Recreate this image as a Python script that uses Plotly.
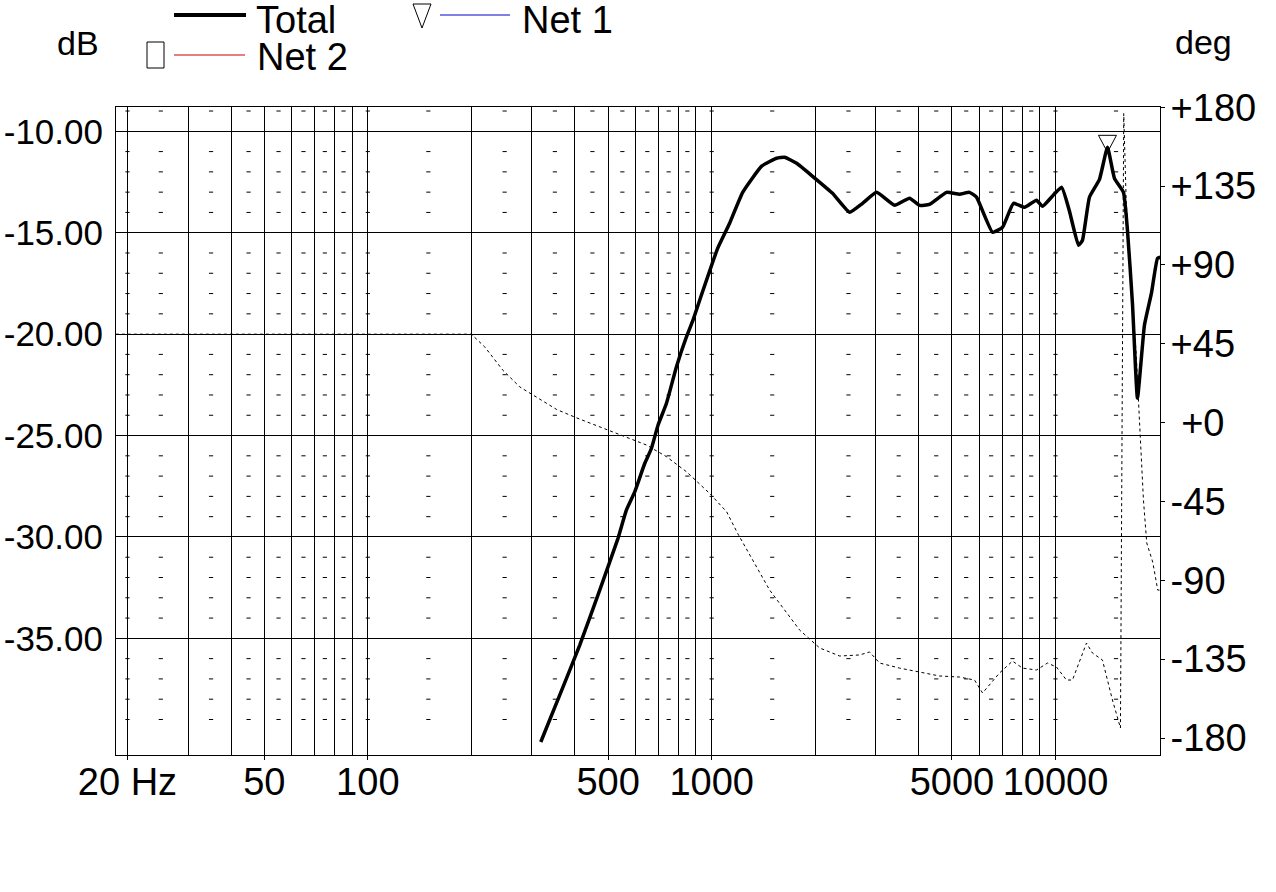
import plotly.graph_objects as go

# ---------------- data ----------------
# Total response (dB, left axis)
TOTAL_F = [318.4, 361.5, 413.4, 472.6, 534.1, 564.9, 597.4, 638.7, 667.9, 698.2,
           738.6, 789.7, 844.6, 882.6, 922.9, 1041, 1128, 1231, 1398, 1545,
           1630, 1767, 1966, 2247, 2519, 2748, 3018, 3404, 3764, 4024,
           4302, 4822, 5260, 5623, 5893, 6560, 7015, 7548, 8127, 8807,
           9167, 10409, 10982, 11665, 11982, 12555, 13427, 14165, 14843, 15767,
           16194, 16745, 17317, 18145, 19015, 19800, 20200]
TOTAL_DB = [-40.11, -37.80, -35.33, -32.62, -30.07, -28.68, -27.78, -26.38, -25.64, -24.49,
            -23.42, -21.62, -20.14, -19.31, -18.33, -15.77, -14.53, -13.01, -11.72, -11.33,
            -11.28, -11.58, -12.22, -13.06, -13.99, -13.55, -13.01, -13.65, -13.30, -13.65,
            -13.60, -13.01, -13.10, -13.01, -13.25, -14.98, -14.73, -13.55, -13.75, -13.40,
            -13.70, -12.76, -13.94, -15.62, -15.37, -13.25, -12.37, -10.79, -12.32, -13.01,
            -14.88, -18.48, -23.16, -19.56, -17.98, -16.26, -16.21]

# Phase (deg, right axis)
PHASE_F = [18.5, 200, 218.9, 246.9, 276.6, 301.8, 354.3, 405.1, 472.6, 551.1,
           647.1, 739.9, 845.9, 986.7, 1106, 1190, 1475, 1803, 2061, 2356,
           2693, 2880, 3079, 3520, 4024, 4601, 5260, 5814, 6136, 6874,
           7499, 8018, 8807, 9479, 10067, 10764, 11205, 12307, 12812, 13697,
           14645, 15453, 15796, 16054, 16596, 17165, 17547, 18025, 18428, 19182,
           19838, 20063]
PHASE_DEG = [50.5, 50.5, 43.2, 30.0, 20.4, 15.7, 7.5, 2.7, -2.4, -7.1,
             -12.8, -19.5, -28.1, -40.4, -50.9, -63.2, -95.6, -118.4, -128.6, -133.2,
             -132.6, -130.9, -137.2, -140.1, -142.3, -144.6, -145.2, -146.9, -154.3, -142.9,
             -136.1, -140.1, -141.2, -137.2, -139.5, -146.9, -146.9, -125.8, -131.5, -135.5,
             -158.3, -174.3, 176.4, 126.9, 77.5, 39.7, 1.4, -44.2, -68.7, -79.6,
             -95.6, -95.6]

# Net 1 marker (on Total peak)
NET1_MARK_F = 14165
NET1_MARK_DB = -10.79

# axis ticks
X_MAJOR = [20, 50, 100, 500, 1000, 5000, 10000]
X_MAJOR_TEXT = ["20 Hz", "50", "100", "500", "1000", "5000", "10000"]
X_MINOR = [30, 40, 60, 70, 80, 90, 200, 300, 400, 600, 700, 800, 900,
           2000, 3000, 4000, 6000, 7000, 8000, 9000]
X_DASH = [20, 25, 35, 45, 55, 65, 75, 85, 100, 150, 250, 350, 450, 550, 650,
          750, 850, 1000, 1500, 2500, 3500, 4500, 5500, 6500, 7500, 8500,
          10000, 15000]
Y_DB_TICKS = [-10, -15, -20, -25, -30, -35]
Y_DB_TEXT = ["-10.00", "-15.00", "-20.00", "-25.00", "-30.00", "-35.00"]
Y_DB_DASH = [-9, -11, -12, -13, -14, -16, -17, -18, -19, -21, -22, -23, -24,
             -26, -27, -28, -29, -31, -32, -33, -34, -36, -37, -38, -39]
Y_DEG_TICKS = [180, 135, 90, 45, 0, -45, -90, -135, -180]
Y_DEG_TEXT = ["+180", "+135", "+90", "+45", "\u00a0+0", "-45", "-90", "-135", "-180"]

# ---------------- layout helpers ----------------
W, H = 1276, 892
PL, PR, PT, PB = 116, 1160, 107, 755          # plot area in window pixels
L, R, T, B = PL, W - PR, PT, H - PB
PW, PH = PR - PL, PB - PT


def px(x):
    return (x - PL) / PW


def py(y):
    return (PB - y) / PH


FONT = "Liberation Sans, Arial, sans-serif"

fig = go.Figure()

# grid dash decoration
dx = [fx for fx in X_DASH for _ in Y_DB_DASH]
dy = [d for _ in X_DASH for d in Y_DB_DASH]
fig.add_trace(go.Scatter(x=dx, y=dy, mode="markers", hoverinfo="skip",
                         marker=dict(symbol="line-ew", size=3,
                                     line=dict(color="black", width=1)),
                         showlegend=False))

fig.add_trace(go.Scatter(x=PHASE_F, y=PHASE_DEG, yaxis="y2", mode="lines",
                         line=dict(color="black", width=1, dash="3px,3px"),
                         name="Phase", showlegend=False))

fig.add_trace(go.Scatter(x=TOTAL_F, y=TOTAL_DB, mode="lines",
                         line=dict(color="black", width=3.5, shape="spline",
                                   smoothing=0.4),
                         name="Total", showlegend=False))

fig.update_layout(
    width=W, height=H,
    margin=dict(l=L, r=R, t=T, b=B, autoexpand=False),
    paper_bgcolor="white", plot_bgcolor="white",
    font=dict(family=FONT, size=38, color="black"),
    xaxis=dict(type="log", range=[1.2676, 4.304], automargin=False,
               tickvals=X_MAJOR, ticktext=X_MAJOR_TEXT,
               ticks="outside", ticklen=4, tickcolor="black",
               showgrid=True, gridcolor="black", gridwidth=1,
               minor=dict(tickvals=X_MINOR, showgrid=True, gridcolor="black",
                          gridwidth=1, ticks=""),
               showline=True, linecolor="black", linewidth=1, mirror=True,
               zeroline=False, ticklabelstandoff=-11,
               tickfont=dict(size=38)),
    yaxis=dict(range=[-40.751, -8.802], automargin=False,
               tickvals=Y_DB_TICKS, ticktext=Y_DB_TEXT,
               showgrid=True, gridcolor="black", gridwidth=1,
               showline=True, linecolor="black", linewidth=1, mirror=True,
               zeroline=False, ticks="", ticklabelstandoff=5,
               tickfont=dict(size=35)),
    yaxis2=dict(range=[-189.70, 180.17], overlaying="y", side="right",
                automargin=False,
                tickvals=Y_DEG_TICKS, ticktext=Y_DEG_TEXT,
                showgrid=False, zeroline=False, showline=False,
                ticks="outside", ticklen=4, tickcolor="black",
                ticklabelstandoff=-2, tickfont=dict(size=38)),
    showlegend=False,
)

# Net 1 marker on the plot (triangle, anchored at data point)
fig.add_shape(type="path", xref="x", yref="y",
              xsizemode="pixel", ysizemode="pixel",
              xanchor=NET1_MARK_F, yanchor=NET1_MARK_DB,
              path="M-9,12 L9,12 L0,-5 Z",
              line=dict(color="black", width=1), fillcolor="rgba(0,0,0,0)")

# axis unit labels
fig.add_annotation(text="dB", xref="paper", yref="paper", x=px(101), y=py(43),
                   xanchor="right", yanchor="middle", showarrow=False,
                   font=dict(size=34))
fig.add_annotation(text="deg", xref="paper", yref="paper", x=px(1173), y=py(42),
                   xanchor="left", yanchor="middle", showarrow=False,
                   font=dict(size=34))

# manual legend
fig.add_shape(type="line", xref="paper", yref="paper",
              x0=px(174), x1=px(246), y0=py(15), y1=py(15),
              line=dict(color="black", width=4))
fig.add_annotation(text="Total", xref="paper", yref="paper", x=px(255), y=py(-2),
                   xanchor="left", yanchor="top", showarrow=False, borderpad=0)

fig.add_shape(type="path", xref="paper", yref="paper",
              path="M{},{} L{},{} L{},{} Z".format(px(413), py(4), px(431), py(4),
                                                  px(422), py(28)),
              line=dict(color="black", width=1), fillcolor="rgba(0,0,0,0)")
fig.add_shape(type="line", xref="paper", yref="paper",
              x0=px(440), x1=px(510), y0=py(15), y1=py(15),
              line=dict(color="#0000cc", width=1))
fig.add_annotation(text="Net 1", xref="paper", yref="paper", x=px(521), y=py(-2),
                   xanchor="left", yanchor="top", showarrow=False, borderpad=0)

fig.add_shape(type="rect", xref="paper", yref="paper",
              x0=px(147), x1=px(164), y0=py(68), y1=py(42),
              line=dict(color="black", width=1), fillcolor="rgba(0,0,0,0)")
fig.add_shape(type="line", xref="paper", yref="paper",
              x0=px(174), x1=px(245), y0=py(55), y1=py(55),
              line=dict(color="#cc0000", width=1))
fig.add_annotation(text="Net 2", xref="paper", yref="paper", x=px(255), y=py(57),
                   xanchor="left", yanchor="middle", showarrow=False)

# remove the default 8px page margin so the figure fills the window exactly
fig.write_html("out.html", config={"displayModeBar": False},
               post_script="document.body.style.margin='0px';")
